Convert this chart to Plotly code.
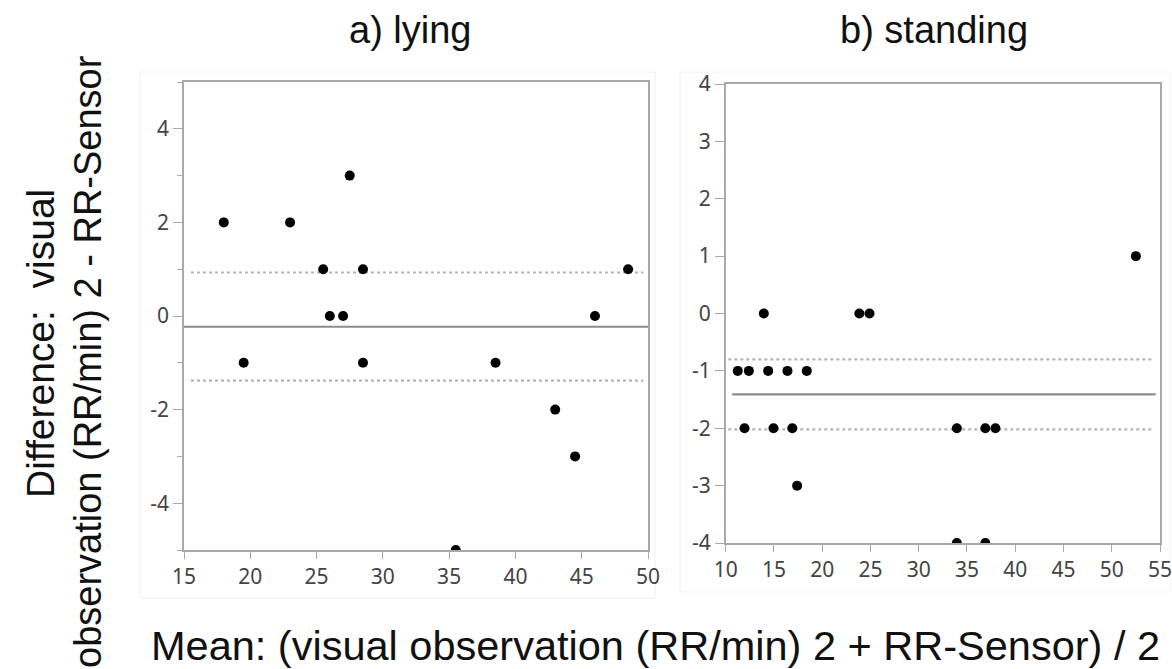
import plotly.graph_objects as go

# ---------------- data ----------------
lying_mean = [18, 23, 25.5, 27.5, 28.5, 48.5, 26, 27, 46, 19.5, 28.5, 38.5, 43, 44.5, 35.5]
lying_diff = [2, 2, 1, 3, 1, 1, 0, 0, 0, -1, -1, -1, -2, -3, -5]
lying_bias = -0.23
lying_loa = [0.93, -1.38]

standing_mean = [52.5, 13.95, 23.85, 24.9,
                 11.25, 12.4, 14.4, 16.4, 18.4,
                 11.95, 14.95, 16.9, 33.95, 36.9, 37.95,
                 17.4, 33.95, 36.9]
standing_diff = [1, 0, 0, 0,
                 -1, -1, -1, -1, -1,
                 -2, -2, -2, -2, -2, -2,
                 -3, -4, -4]
standing_bias = -1.41
standing_loa = [-0.80, -2.02]

lying_xticks = [15, 20, 25, 30, 35, 40, 45, 50]
lying_yticks = [-4, -2, 0, 2, 4]
standing_xticks = [10, 15, 20, 25, 30, 35, 40, 45, 50, 55]
standing_yticks = [-4, -3, -2, -1, 0, 1, 2, 3, 4]

titles = ["a) lying", "b) standing"]
x_title = "Mean: (visual observation (RR/min) 2 + RR-Sensor) / 2"
y_title_lines = ["Difference:  visual", "observation (RR/min) 2 - RR-Sensor"]

# ---------------- figure ----------------
W, H = 1172, 669
fig = go.Figure()

marker = dict(color="black", size=10)
fig.add_trace(go.Scatter(x=lying_mean, y=lying_diff, mode="markers",
                         marker=marker, xaxis="x", yaxis="y", showlegend=False))
fig.add_trace(go.Scatter(x=standing_mean, y=standing_diff, mode="markers",
                         marker=marker, xaxis="x2", yaxis="y2", showlegend=False))

axis_common = dict(showgrid=False, zeroline=False, showline=True, mirror=True,
                   automargin=False, ticklabeloverflow="allow",
                   linecolor="#a8a8a8", linewidth=1.5, ticks="outside",
                   tickcolor="#a8a8a8", tickwidth=1.2,
                   tickfont=dict(family="Noto Sans", size=21, color="#444444"))


def labels(vals):
    return [str(v) for v in vals]


fig.update_layout(
    width=W, height=H, autosize=False,
    margin=dict(l=0, r=0, t=0, b=0, pad=0),
    paper_bgcolor="white", plot_bgcolor="white",
    xaxis=dict(domain=[184 / W, 648 / W], range=[15, 50], tickvals=lying_xticks,
               ticktext=labels(lying_xticks), anchor="y", ticklen=7, **axis_common),
    yaxis=dict(domain=[1 - 550 / H, 1 - 82 / H], range=[-5, 5], tickvals=lying_yticks,
               ticktext=labels(lying_yticks), anchor="x", ticklen=9,
               minor=dict(dtick=1, ticklen=5, tickcolor="#a8a8a8", ticks="outside"),
               **axis_common),
    xaxis2=dict(domain=[725.7 / W, 1160 / W], range=[10, 55], tickvals=standing_xticks,
                ticktext=labels(standing_xticks), anchor="y2", ticklen=7, **axis_common),
    yaxis2=dict(domain=[1 - 543 / H, 1 - 84 / H], range=[-4, 4], tickvals=standing_yticks,
                ticktext=labels(standing_yticks), anchor="x2", ticklen=9, **axis_common),
)

# bias and limits of agreement
fig.add_hline(y=lying_bias, line=dict(color="#8c8c8c", width=2.2), xref="x", yref="y",
              layer="below")
for v in lying_loa:
    fig.add_shape(type="line", xref="x domain", yref="y", x0=0.015, x1=0.99,
                  y0=v, y1=v, line=dict(color="#b4b4b4", width=2.2, dash="dot"),
                  layer="below")
fig.add_shape(type="line", xref="x2 domain", yref="y2", x0=0.015, x1=0.99,
              y0=standing_bias, y1=standing_bias, line=dict(color="#8c8c8c", width=2.2),
              layer="below")
for v in standing_loa:
    fig.add_shape(type="line", xref="x2 domain", yref="y2", x0=0.006, x1=0.985,
                  y0=v, y1=v, line=dict(color="#b4b4b4", width=2.2, dash="dot"),
                  layer="below")

# faint outer frames
fig.add_shape(type="rect", xref="paper", yref="paper",
              x0=140 / W, x1=655 / W, y0=1 - 598 / H, y1=1 - 72 / H,
              line=dict(color="#efefef", width=1), layer="below")
fig.add_shape(type="rect", xref="paper", yref="paper",
              x0=680 / W, x1=1170 / W, y0=1 - 592 / H, y1=1 - 72 / H,
              line=dict(color="#f2f2f2", width=1), layer="below")

title_font = dict(family="Liberation Sans, Arial", size=38, color="#111")
fig.add_annotation(text=titles[0], xref="paper", yref="paper", x=410 / W, y=1 - 30 / H,
                   showarrow=False, font=title_font, xanchor="center", yanchor="middle")
fig.add_annotation(text=titles[1], xref="paper", yref="paper", x=934 / W, y=1 - 30 / H,
                   showarrow=False, font=title_font, xanchor="center", yanchor="middle")
fig.add_annotation(text=x_title, xref="paper", yref="paper", x=655 / W, y=1 - 645 / H,
                   showarrow=False, font=dict(family="Liberation Sans, Arial", size=41.5,
                                              color="#111"),
                   xanchor="center", yanchor="middle")
fig.add_annotation(text=y_title_lines[0], xref="paper", yref="paper", x=40 / W,
                   y=1 - 344 / H, showarrow=False,
                   font=dict(family="Liberation Sans, Arial", size=39, color="#111"),
                   textangle=-90, xanchor="center", yanchor="middle")
fig.add_annotation(text=y_title_lines[1], xref="paper", yref="paper", x=88 / W,
                   y=1 - 362 / H, showarrow=False,
                   font=dict(family="Liberation Sans, Arial", size=38, color="#111"),
                   textangle=-90, xanchor="center", yanchor="middle")

fig.write_html("out.html",
               config={"displayModeBar": False},
               post_script="document.body.style.margin='0px';"
                           "document.body.style.overflow='hidden';")
